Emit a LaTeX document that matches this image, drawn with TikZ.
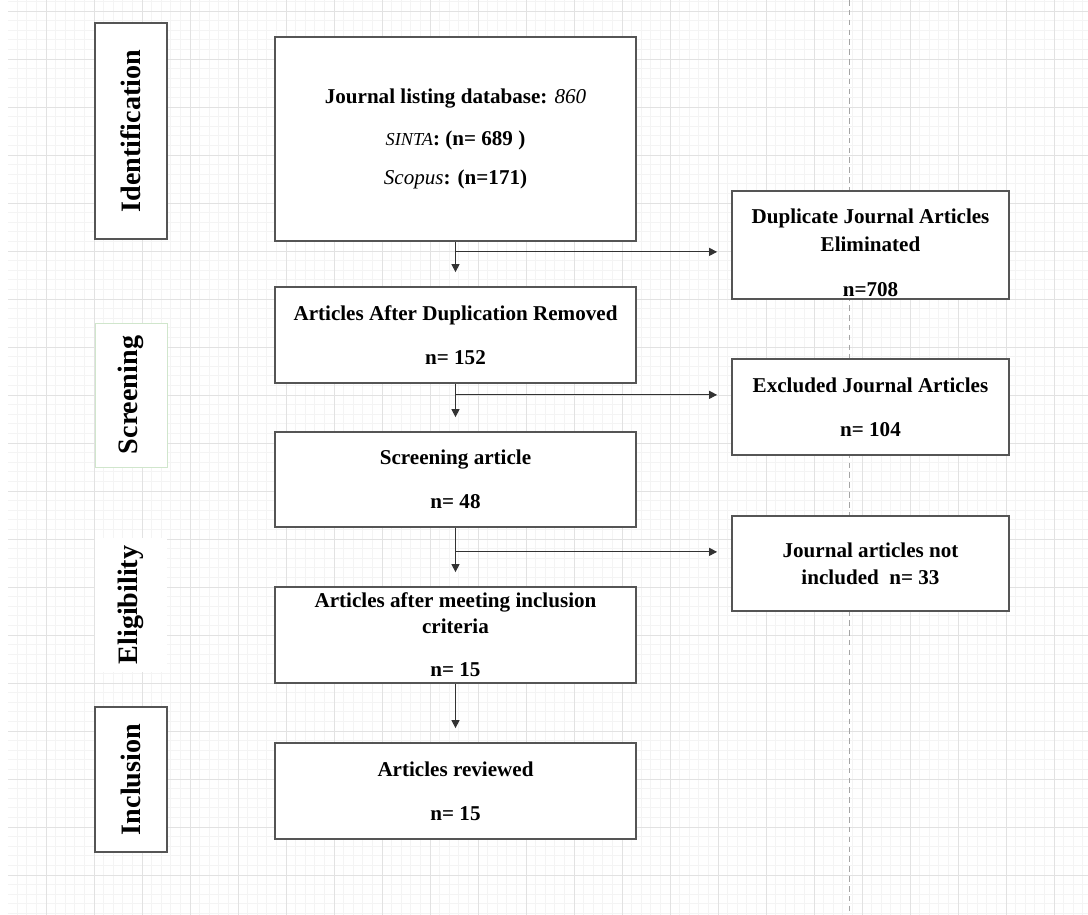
\documentclass[tikz,border=0pt]{standalone}
\usepackage{fontspec}
\setmainfont{Liberation Serif}
\usetikzlibrary{arrows.meta, positioning, calc}
\definecolor{boxgray}{RGB}{85, 85, 85}
\definecolor{linegray}{RGB}{51, 51, 51}
\definecolor{gridmajor}{RGB}{226, 226, 226}
\definecolor{gridminor}{RGB}{244, 244, 244}
\definecolor{stagegreen}{RGB}{208, 230, 204}
\definecolor{guidegray}{RGB}{165, 165, 165}

\tikzset{
  flowbox/.style={draw=boxgray, line width=1.2pt, fill=white, align=center, inner sep=2pt,
    font=\fontsize{15}{16}\selectfont\bfseries},
  stagebox/.style={draw=boxgray, line width=1.2pt, fill=white, rotate=90, minimum height=1.8cm,
    inner sep=0pt, font=\fontsize{20}{22}\selectfont\bfseries},
  flowarrow/.style={draw=linegray, line width=0.7pt, -{Triangle[length=0.2cm, width=0.2cm]},
    shorten >=0.35cm},
}

\begin{document}
\begin{tikzpicture}[x=0.025cm, y=-0.025cm]
  \useasboundingbox (0, 0) rectangle (1088, 915);

  % Background grid
  \begin{scope}
    \clip (8, 0) rectangle (1088, 915);
    \foreach \i in {0,...,113} \draw[gridminor, line width=0.5pt] ({7.6+9.6*\i}, 0) -- ({7.6+9.6*\i}, 915);
    \foreach \i in {0,...,95} \draw[gridminor, line width=0.5pt] (8, {1.4+9.6*\i}) -- (1088, {1.4+9.6*\i});
    \foreach \i in {0,...,22} \draw[gridmajor, line width=0.7pt] ({46+48*\i}, 0) -- ({46+48*\i}, 915);
    \foreach \i in {0,...,19} \draw[gridmajor, line width=0.7pt] (8, {11+48*\i}) -- (1088, {11+48*\i});
  \end{scope}
  \draw[guidegray, line width=0.7pt, dash pattern=on 4pt off 3pt] (849, 0) -- (849, 915);

  % Stage labels
  \node[stagebox, minimum width=5.4cm] (ident) at (131, 131) {Identification};
  \node[stagebox, draw=stagegreen, line width=0.6pt, minimum width=3.6cm] (screen) at (131, 395) {Screening};
  \node[stagebox, draw=none, minimum width=3.35cm] (elig) at (131, 605) {Eligibility};
  \node[stagebox, minimum width=3.625cm] (incl) at (131, 779.5) {Inclusion};

  % Main flow
  \node[flowbox, minimum width=9.025cm, minimum height=5.1cm] (b1) at (455.5, 139) {
    Journal listing database: {\mdseries\itshape 860}\\[14pt]
    {\mdseries\itshape\fontsize{13}{16}\selectfont SINTA}: (n= 689 )\\[12pt]
    {\mdseries\itshape Scopus}: (n=171)};
  \node[flowbox, minimum width=9.025cm, minimum height=2.4cm] (b2) at (455.5, 335) {
    Articles After Duplication Removed\\[15pt] n= 152};
  \node[flowbox, minimum width=9.025cm, minimum height=2.375cm] (b3) at (455.5, 479.5) {
    Screening article\\[15pt] n= 48};
  \node[flowbox, minimum width=9.025cm, minimum height=2.4cm] (b4) at (455.5, 635) {
    Articles after meeting inclusion\\[2pt] criteria\\[15pt] n= 15};
  \node[flowbox, minimum width=9.025cm, minimum height=2.4cm] (b5) at (455.5, 791) {
    Articles reviewed\\[15pt] n= 15};

  % Excluded records
  \node[flowbox, minimum width=6.925cm, minimum height=2.7cm] (r1) at (870.5, 245) {
    \rule{0pt}{21pt}Duplicate Journal Articles\\[4pt] Eliminated\\[16pt] n=708};
  \node[flowbox, minimum width=6.925cm, minimum height=2.4cm] (r2) at (870.5, 407) {
    Excluded Journal Articles\\[15pt] n= 104};
  \node[flowbox, minimum width=6.925cm, minimum height=2.375cm] (r3) at (870.5, 563.5) {
    Journal articles not\\[3pt] included\ \ n= 33};

  % Branch points
  \coordinate (j1) at ($(b1.south)+(0, 10)$);
  \coordinate (j2) at ($(b2.south)+(0, 11)$);
  \coordinate (j3) at ($(b3.south)+(0, 24)$);

  % Arrows
  \draw[flowarrow] (b1) -- (b2);
  \draw[flowarrow] (b2) -- (b3);
  \draw[flowarrow] (b3) -- (b4);
  \draw[flowarrow] (b4) -- (b5);
  \draw[flowarrow] (j1) -- (j1 -| r1.west);
  \draw[flowarrow] (j2) -- (j2 -| r2.west);
  \draw[flowarrow] (j3) -- (j3 -| r3.west);
\end{tikzpicture}
\end{document}
